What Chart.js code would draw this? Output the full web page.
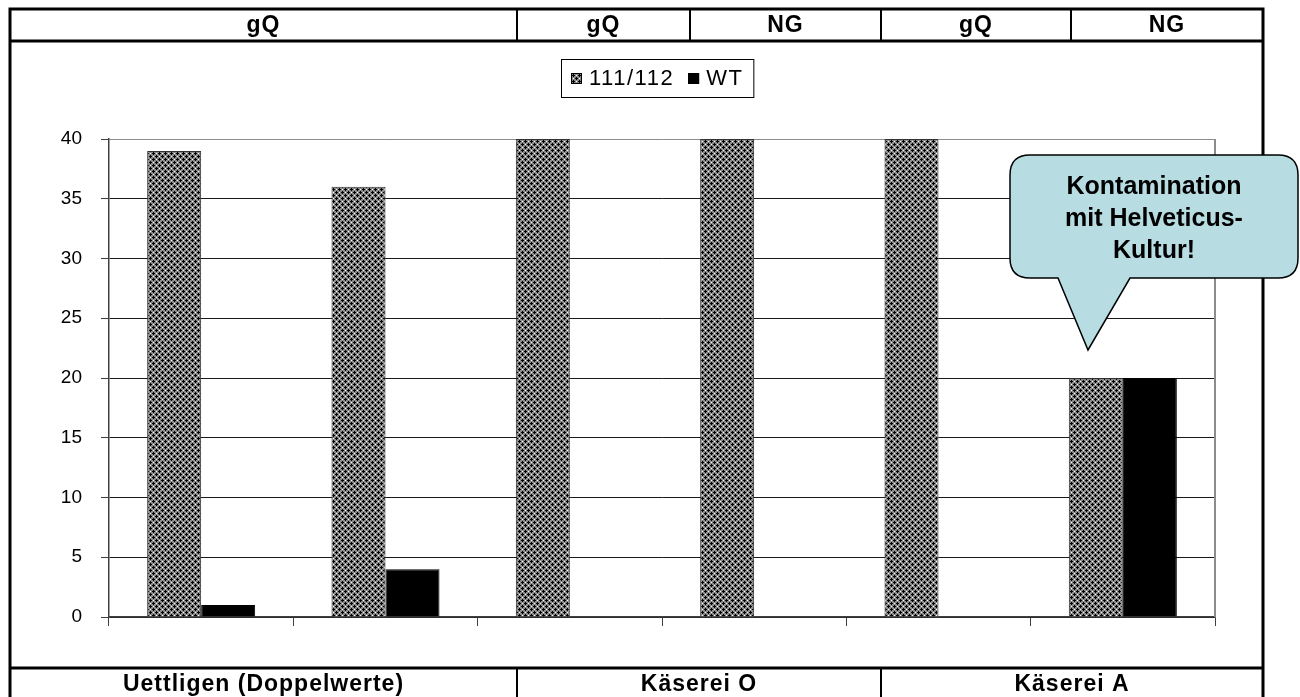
<!DOCTYPE html>
<html>
<head>
<meta charset="utf-8">
<script src="https://cdn.jsdelivr.net/npm/chart.js@4.4.1/dist/chart.umd.min.js"></script>
<style>
  html, body { margin: 0; padding: 0; background: #fff; }
  #wrap { position: relative; width: 1300px; height: 697px; }
</style>
</head>
<body>
<div id="wrap"><canvas id="c" width="1300" height="697"></canvas></div>
<script>
// ---- data ----
const categories = ['Uettligen 1', 'Uettligen 2', 'Käserei O 1', 'Käserei O 2', 'Käserei A 1', 'Käserei A 2'];
const seriesNames = ['111/112', 'WT'];
const values111 = [39, 36, 40, 40, 40, 20];
const valuesWT = [1, 4, 0, 0, 0, 20];
const yTickStep = 5;
const yMax = 40;
const topRowLabels = ['gQ', 'gQ', 'NG', 'gQ', 'NG'];
const bottomRowLabels = ['Uettligen (Doppelwerte)', 'Käserei O', 'Käserei A'];
const calloutLines = ['Kontamination', 'mit Helveticus-', 'Kultur!'];

// ---- layout ----
const FONT = '"Liberation Sans", Arial, sans-serif';
const topCellEdges = [10, 517, 690, 881, 1071, 1263];
const bottomCellEdges = [10, 517, 881, 1263];
const frame = { top: 9, headerLine: 41, footerLine: 668 };

// crosshatch fill used for the 111/112 bars
function makeHatch() {
  const rows = ['KKGWGK', 'KGGGGG', 'GGGKGG', 'WGKKKG', 'GGGKGG', 'KGGGGG'];
  const col = { K: '#000000', G: '#8a8a8a', W: '#ffffff' };
  const t = document.createElement('canvas');
  t.width = 6; t.height = 6;
  const tc = t.getContext('2d');
  rows.forEach((r, y) => [...r].forEach((ch, x) => {
    tc.fillStyle = col[ch];
    tc.fillRect(x, y, 1, 1);
  }));
  return document.getElementById('c').getContext('2d').createPattern(t, 'repeat');
}
const hatch = makeHatch();

// table frame with group labels above and below the plot
const framePlugin = {
  id: 'frame',
  afterDraw(chart) {
    const ctx = chart.ctx;
    ctx.save();
    ctx.strokeStyle = '#000';
    ctx.lineWidth = 3;
    ctx.beginPath();
    // outer frame
    ctx.moveTo(topCellEdges[0], 697); ctx.lineTo(topCellEdges[0], frame.top);
    ctx.lineTo(topCellEdges[5], frame.top); ctx.lineTo(topCellEdges[5], 697);
    // header and footer rules
    ctx.moveTo(topCellEdges[0], frame.headerLine); ctx.lineTo(topCellEdges[5], frame.headerLine);
    ctx.moveTo(bottomCellEdges[0], frame.footerLine); ctx.lineTo(bottomCellEdges[3], frame.footerLine);
    ctx.stroke();
    ctx.lineWidth = 2;
    ctx.beginPath();
    for (let i = 1; i < topCellEdges.length - 1; i++) {
      ctx.moveTo(topCellEdges[i], frame.top); ctx.lineTo(topCellEdges[i], frame.headerLine);
    }
    for (let i = 1; i < bottomCellEdges.length - 1; i++) {
      ctx.moveTo(bottomCellEdges[i], frame.footerLine); ctx.lineTo(bottomCellEdges[i], 697);
    }
    ctx.stroke();

    ctx.fillStyle = '#000';
    ctx.font = 'bold 23px ' + FONT;
    ctx.textAlign = 'center';
    ctx.textBaseline = 'middle';
    ctx.letterSpacing = '1px';
    topRowLabels.forEach((t, i) => {
      ctx.fillText(t, (topCellEdges[i] + topCellEdges[i + 1]) / 2, 26);
    });
    bottomRowLabels.forEach((t, i) => {
      ctx.fillText(t, (bottomCellEdges[i] + bottomCellEdges[i + 1]) / 2, 685);
    });
    ctx.restore();
  }
};

// boxed legend
const legendPlugin = {
  id: 'boxLegend',
  afterDraw(chart) {
    const ctx = chart.ctx;
    ctx.save();
    ctx.font = '22px ' + FONT;
    ctx.textBaseline = 'middle';
    ctx.letterSpacing = '1.5px';
    const sw = 11, gap = 7, itemGap = 14, padX = 10;
    const items = chart.data.datasets.map(d => ({ label: d.label, fill: d.backgroundColor, w: ctx.measureText(d.label).width }));
    let total = padX * 2;
    items.forEach((it, i) => { total += sw + gap + it.w + (i ? itemGap : 0); });
    const cx = 657, top = 59, h = 38;
    const left = Math.round(cx - total / 2);
    ctx.fillStyle = '#fff';
    ctx.fillRect(left, top, total, h);
    ctx.strokeStyle = '#000';
    ctx.lineWidth = 1;
    ctx.strokeRect(left + 0.5, top + 0.5, total, h);
    let x = left + padX;
    const my = top + h / 2;
    items.forEach((it, i) => {
      if (i) x += itemGap;
      ctx.fillStyle = it.fill;
      ctx.fillRect(x, my - 5, sw, sw);
      ctx.strokeStyle = '#000';
      ctx.strokeRect(x + 0.5, my - 4.5, sw - 1, sw - 1);
      x += sw + gap;
      ctx.fillStyle = '#000';
      ctx.fillText(it.label, x, my + 1);
      x += it.w;
    });
    ctx.restore();
  }
};

// grey plot-area edge on the right
const plotEdgePlugin = {
  id: 'plotEdge',
  beforeDatasetsDraw(chart) {
    const { ctx, chartArea: a } = chart;
    ctx.save();
    ctx.strokeStyle = '#8c8c8c';
    ctx.lineWidth = 2;
    ctx.beginPath();
    ctx.moveTo(a.right, a.top); ctx.lineTo(a.right, a.bottom);
    ctx.stroke();
    ctx.restore();
  }
};

// speech-bubble note over the last group
const calloutPlugin = {
  id: 'callout',
  afterDraw(chart) {
    const ctx = chart.ctx;
    const L = 1010, R = 1298, T = 155, B = 278, r = 20;
    const tailA = 1058, tailB = 1130, tipX = 1088, tipY = 350;
    ctx.save();
    ctx.beginPath();
    ctx.moveTo(L + r, T);
    ctx.lineTo(R - r, T);
    ctx.quadraticCurveTo(R, T, R, T + r);
    ctx.lineTo(R, B - r);
    ctx.quadraticCurveTo(R, B, R - r, B);
    ctx.lineTo(tailB, B);
    ctx.lineTo(tipX, tipY);
    ctx.lineTo(tailA, B);
    ctx.lineTo(L + r, B);
    ctx.quadraticCurveTo(L, B, L, B - r);
    ctx.lineTo(L, T + r);
    ctx.quadraticCurveTo(L, T, L + r, T);
    ctx.closePath();
    ctx.fillStyle = '#b7dde3';
    ctx.fill();
    ctx.strokeStyle = '#000';
    ctx.lineWidth = 1.5;
    ctx.stroke();
    ctx.fillStyle = '#000';
    ctx.font = 'bold 25px ' + FONT;
    ctx.textAlign = 'center';
    ctx.textBaseline = 'middle';
    calloutLines.forEach((t, i) => ctx.fillText(t, 1154, 187 + i * 32));
    ctx.restore();
  }
};

new Chart(document.getElementById('c'), {
  type: 'bar',
  data: {
    labels: categories,
    datasets: [
      { label: seriesNames[0], data: values111, backgroundColor: hatch, borderColor: '#333', borderWidth: 1,
        categoryPercentage: 0.586, barPercentage: 1 },
      { label: seriesNames[1], data: valuesWT, backgroundColor: '#000', borderColor: '#000', borderWidth: 1,
        categoryPercentage: 0.586, barPercentage: 1 }
    ]
  },
  options: {
    responsive: false,
    animation: false,
    devicePixelRatio: 1,
    layout: { padding: { top: 139, right: 85, left: 0, bottom: 0 } },
    plugins: { legend: { display: false }, tooltip: { enabled: false } },
    scales: {
      x: {
        ticks: { display: false },
        grid: { drawOnChartArea: false, drawTicks: true, tickLength: 9, color: '#404040', offset: true },
        border: { color: '#404040', width: 1.5 },
        afterFit(s) { s.height = 80; }
      },
      y: {
        min: 0, max: yMax,
        ticks: { stepSize: yTickStep, padding: 19, color: '#000', font: { family: FONT, size: 19 } },
        grid: { color: c => (c.tick && c.tick.value === yMax) ? '#8c8c8c' : '#1a1a1a', tickLength: 8, tickColor: '#404040' },
        border: { color: '#404040', width: 1.5 },
        afterFit(s) { s.width = 109; }
      }
    }
  },
  plugins: [plotEdgePlugin, framePlugin, legendPlugin, calloutPlugin]
});
</script>
</body>
</html>
